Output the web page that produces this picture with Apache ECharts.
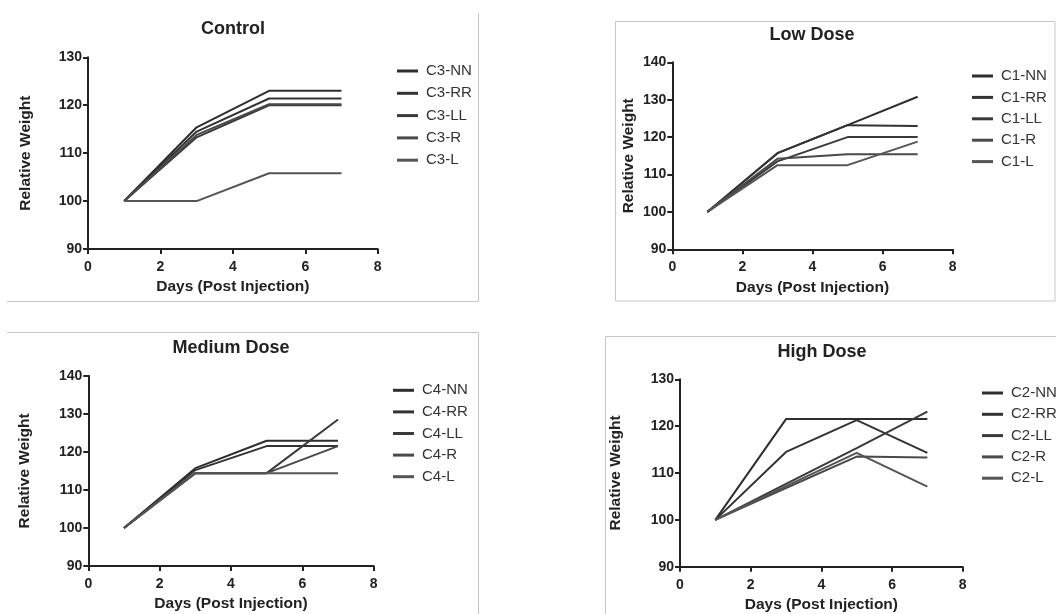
<!DOCTYPE html>
<html>
<head>
<meta charset="utf-8">
<script src="https://cdn.jsdelivr.net/npm/echarts@6/dist/echarts.min.js"></script>
<style>html,body{margin:0;padding:0;background:#fff;}#c{width:1056px;height:614px;}</style>
</head>
<body>
<div id="c"></div>
<script>
// ---- data ----
const days = [1, 3, 5, 7];
const xTicks = [0, 2, 4, 6, 8];

const titles = ['Control', 'Low Dose', 'Medium Dose', 'High Dose'];
const yMax = [130, 140, 140, 130];

const controlNames = ['C3-NN', 'C3-RR', 'C3-LL', 'C3-R', 'C3-L'];
const controlNN = [100, 115.4, 123.0, 123.0];
const controlRR = [100, 114.5, 121.4, 121.4];
const controlLL = [100, 113.3, 120.0, 120.0];
const controlR  = [100, 113.8, 120.2, 120.2];
const controlL  = [100, 100.0, 105.8, 105.8];

const lowNames = ['C1-NN', 'C1-RR', 'C1-LL', 'C1-R', 'C1-L'];
const lowNN = [100, 115.7, 123.2, 130.8];
const lowRR = [100, 115.7, 123.2, 123.0];
const lowLL = [100, 113.5, 120.0, 120.0];
const lowR  = [100, 114.2, 115.4, 115.4];
const lowL  = [100, 112.5, 112.5, 118.8];

const medNames = ['C4-NN', 'C4-RR', 'C4-LL', 'C4-R', 'C4-L'];
const medNN = [100, 115.7, 122.9, 122.9];
const medRR = [100, 115.2, 121.5, 121.5];
const medLL = [100, 114.4, 114.4, 128.5];
const medR  = [100, 114.4, 114.4, 121.5];
const medL  = [100, 114.4, 114.4, 114.4];

const highNames = ['C2-NN', 'C2-RR', 'C2-LL', 'C2-R', 'C2-L'];
const highNN = [100, 121.5, 121.5, 121.5];
const highRR = [100, 114.5, 121.3, 114.3];
const highLL = [100, 107.7, 115.3, 123.1];
const highR  = [100, 106.8, 113.5, 113.3];
const highL  = [100, 107.2, 114.3, 107.1];

const panels = [
  { names: controlNames, values: [controlNN, controlRR, controlLL, controlR, controlL] },
  { names: lowNames, values: [lowNN, lowRR, lowLL, lowR, lowL] },
  { names: medNames, values: [medNN, medRR, medLL, medR, medL] },
  { names: highNames, values: [highNN, highRR, highLL, highR, highL] }
];

// ---- layout / style ----
const FONT = 'Liberation Sans, Arial, sans-serif';
const grids = [
  { left: 88, top: 57.3, width: 289.7, height: 191.7 },
  { left: 672.3, top: 62.3, width: 280.4, height: 187 },
  { left: 88.3, top: 375.7, width: 285.4, height: 190.3 },
  { left: 680, top: 379.3, width: 282.7, height: 187.4 }
];
const titlePos = [[233, 20.5], [812, 26.5], [231, 339.5], [822, 343.5]];
const legendPos = [[397, 63.5], [972, 68.5], [393, 382.8], [982, 385.5]];
const legendGap = [7.3, 6.4, 6.6, 6.3];
const yNameGap = [54, 35.5, 56, 56];
const colors = ['#2e2e2e', '#333333', '#3a3a3a', '#4a4a4a', '#555555'];

const option = {
  animation: false,
  backgroundColor: '#fff',
  title: titles.map((t, i) => ({
    text: t, left: titlePos[i][0], top: titlePos[i][1], textAlign: 'center', padding: 0,
    textStyle: { fontFamily: FONT, fontSize: 18, fontWeight: 'bold', color: '#222' }
  })),
  grid: grids.map(g => Object.assign({ containLabel: false }, g)),
  legend: panels.map((p, i) => ({
    orient: 'vertical', left: legendPos[i][0], top: legendPos[i][1], padding: 0,
    data: p.names, icon: 'rect', itemWidth: 21, itemHeight: 3, itemGap: legendGap[i],
    selectedMode: false,
    textStyle: { fontFamily: FONT, fontSize: 15, color: '#333', lineHeight: 15, padding: [0, 0, 0, 3] }
  })),
  xAxis: grids.map((g, i) => ({
    type: 'value', gridIndex: i, min: 0, max: 8, interval: 2,
    name: 'Days (Post Injection)', nameLocation: 'middle', nameGap: 30,
    nameTextStyle: { fontFamily: FONT, fontSize: 15.5, fontWeight: 'bold', color: '#222' },
    axisLine: { show: true, lineStyle: { color: '#222', width: 2 } },
    axisTick: { show: true, length: 5, lineStyle: { color: '#222', width: 2 } },
    axisLabel: { fontFamily: FONT, fontSize: 14, fontWeight: 'bold', color: '#222', margin: 11,
      formatter: v => xTicks.indexOf(v) >= 0 ? String(v) : '' },
    splitLine: { show: false }
  })),
  yAxis: grids.map((g, i) => ({
    type: 'value', gridIndex: i, min: 90, max: yMax[i], interval: 10,
    name: 'Relative Weight', nameLocation: 'middle', nameGap: yNameGap[i], nameRotate: 90,
    nameTextStyle: { fontFamily: FONT, fontSize: 15.5, fontWeight: 'bold', color: '#222' },
    axisLine: { show: true, lineStyle: { color: '#222', width: 2 } },
    axisTick: { show: true, length: 5, lineStyle: { color: '#222', width: 2 } },
    axisLabel: { fontFamily: FONT, fontSize: 14, fontWeight: 'bold', color: '#222', margin: 6 },
    splitLine: { show: false }
  })),
  series: [],
  graphic: [
    // panel frames
    { type: 'polyline', shape: { points: [[478.5, 13], [478.5, 301.5], [7, 301.5]] }, style: { stroke: '#c8c8c8', fill: null, lineWidth: 1 }, silent: true },
    { type: 'rect', shape: { x: 615.5, y: 21.5, width: 439.5, height: 279.5 }, style: { stroke: '#c8c8c8', fill: null, lineWidth: 1 }, silent: true },
    { type: 'polyline', shape: { points: [[7, 332.5], [478.5, 332.5], [478.5, 614]] }, style: { stroke: '#c8c8c8', fill: null, lineWidth: 1 }, silent: true },
    { type: 'polyline', shape: { points: [[605.5, 614], [605.5, 336.5], [1056, 336.5]] }, style: { stroke: '#c8c8c8', fill: null, lineWidth: 1 }, silent: true }
  ]
};

panels.forEach((p, i) => {
  p.names.forEach((n, k) => {
    option.series.push({
      type: 'line', name: n, xAxisIndex: i, yAxisIndex: i,
      data: days.map((d, j) => [d, p.values[k][j]]),
      symbol: 'none', color: colors[k],
      lineStyle: { width: 2, color: colors[k] }
    });
  });
});

const chart = echarts.init(document.getElementById('c'), null, { renderer: 'canvas' });
chart.setOption(option);
</script>
</body>
</html>
